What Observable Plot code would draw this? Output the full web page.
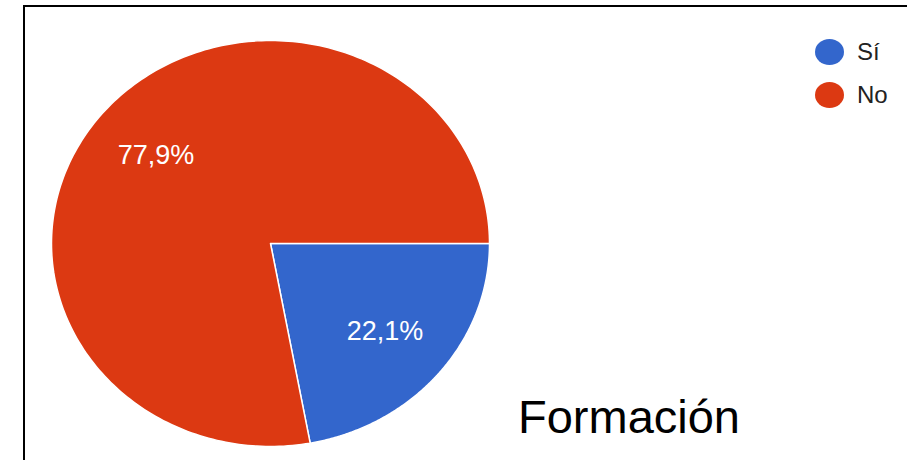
<!DOCTYPE html>
<html>
<head>
<meta charset="utf-8">
<script src="https://cdn.jsdelivr.net/npm/d3@7"></script>
<script src="https://cdn.jsdelivr.net/npm/@observablehq/plot@0.6"></script>
<style>
  html, body { margin: 0; padding: 0; background: #fff; }
  #wrap { position: relative; width: 907px; height: 460px; overflow: hidden; font-family: "Liberation Sans", Arial, sans-serif; }
  #chart { position: absolute; left: 0; top: 0; }
  #frame { position: absolute; left: 23px; top: 5px; width: 900px; height: 470px; border-top: 2px solid #000; border-left: 2px solid #000; box-sizing: border-box; pointer-events: none; }
  .leg { position: absolute; left: 815px; display: flex; align-items: center; font-size: 24px; color: #222; line-height: 1; }
  .leg .sw { width: 29px; height: 26px; border-radius: 50%; margin-right: 13px; }
  #caption { position: absolute; left: 518px; top: 393px; font-size: 47px; line-height: 1; color: #000; white-space: nowrap; }
</style>
</head>
<body>
<div id="wrap">
  <div id="chart"></div>
  <div id="legend"></div>
  <div id="caption"></div>
  <div id="frame"></div>
</div>
<script>
const categories = ["Sí", "No"];
const values = [22.1, 77.9];
const sliceLabels = ["22,1%", "77,9%"];
const colors = ["#3366cc", "#dc3912"];
const captionText = "Formación";

const startDeg = 90; // first slice begins at 3 o'clock, clockwise
const total = d3.sum(values);
const slicePts = [];
const labelData = [];
let acc = 0;
categories.forEach((cat, i) => {
  const a0 = (startDeg + acc / total * 360) * Math.PI / 180;
  acc += values[i];
  const a1 = (startDeg + acc / total * 360) * Math.PI / 180;
  const n = 240;
  slicePts.push({cat, x: 0, y: 0});
  for (let k = 0; k <= n; k++) {
    const a = a0 + (a1 - a0) * k / n;
    slicePts.push({cat, x: Math.sin(a), y: Math.cos(a)});
  }
  slicePts.push({cat, x: 0, y: 0});
  const am = (a0 + a1) / 2;
  labelData.push({text: sliceLabels[i], x: 0.68 * Math.sin(am), y: 0.68 * Math.cos(am)});
});

const chart = Plot.plot({
  width: 907,
  height: 460,
  x: {domain: [-1, 1], range: [51, 489], axis: null},
  y: {domain: [-1, 1], range: [446, 40], axis: null},
  color: {domain: categories, range: colors},
  style: {fontFamily: "'Liberation Sans', Arial, sans-serif", background: "white"},
  marks: [
    Plot.line(slicePts, {x: "x", y: "y", z: "cat", fill: "cat", stroke: "white", strokeWidth: 1.5, strokeLinejoin: "round"}),
    Plot.text(labelData, {x: "x", y: "y", text: "text", fill: "white", fontSize: 27})
  ]
});
document.getElementById("chart").appendChild(chart);

const legend = document.getElementById("legend");
const legTops = [39, 82];
categories.forEach((cat, i) => {
  const item = document.createElement("div");
  item.className = "leg";
  item.style.top = legTops[i] + "px";
  const sw = document.createElement("div");
  sw.className = "sw";
  sw.style.background = colors[i];
  const t = document.createElement("span");
  t.textContent = cat;
  item.appendChild(sw);
  item.appendChild(t);
  legend.appendChild(item);
});
document.getElementById("caption").textContent = captionText;
</script>
</body>
</html>
